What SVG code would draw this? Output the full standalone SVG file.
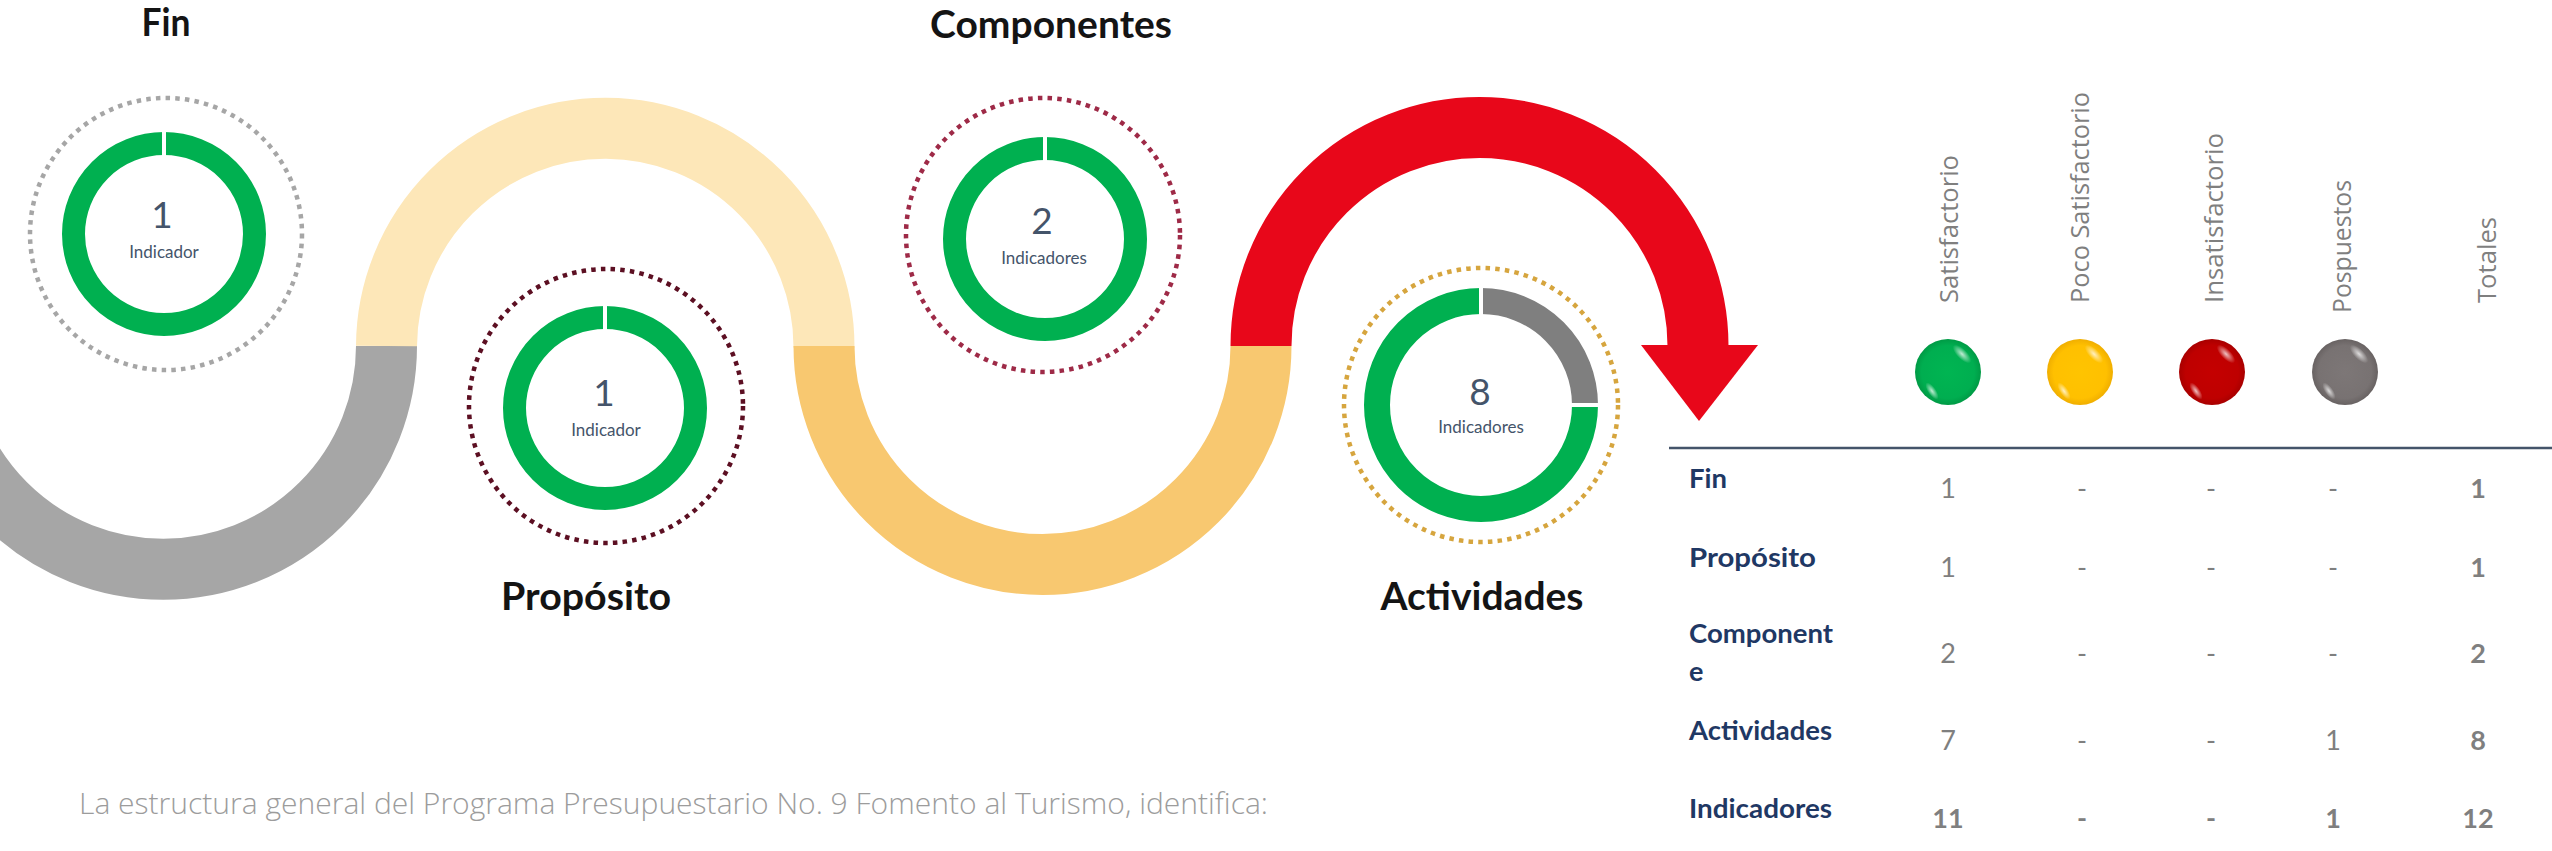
<svg xmlns="http://www.w3.org/2000/svg" width="2552" height="851" viewBox="0 0 2552 851">
<defs>
<style>
.title{font-family:Lato,'Open Sans',sans-serif;font-weight:700;font-size:39px;fill:#141414;text-anchor:middle}
.num{font-family:Lato,'Open Sans',sans-serif;font-size:37px;fill:#44546A;text-anchor:middle}
.lbl{font-family:Lato,'Open Sans',sans-serif;font-size:17px;fill:#44546A;text-anchor:middle}
.ring{fill:none;stroke:#00B050;stroke-width:23}
.dots{fill:none;stroke-width:4.5;stroke-dasharray:4.5 5.2}
.band{fill:none;stroke-width:61}
.gap{fill:#FFFFFF}
.hdr{font-family:'Open Sans',sans-serif;font-size:26px;fill:#7F7F7F}
.row{font-family:Lato,'Open Sans',sans-serif;font-weight:700;font-size:27px;fill:#1F3864}
.val{font-family:Lato,'Open Sans',sans-serif;font-size:27px;fill:#7F7F7F;text-anchor:middle}
.b{font-weight:700}
.foot{font-family:'Open Sans',sans-serif;font-weight:300;font-size:30px;fill:#9C9C9C}
</style>
<radialGradient id="gGreen" cx="50%" cy="50%" r="50%"><stop offset="0" stop-color="#00B552"/><stop offset="0.8" stop-color="#00AE50"/><stop offset="1" stop-color="#009A45"/></radialGradient>
<radialGradient id="gYellow" cx="50%" cy="50%" r="50%"><stop offset="0" stop-color="#FFC400"/><stop offset="0.8" stop-color="#FFC000"/><stop offset="1" stop-color="#F0AE00"/></radialGradient>
<radialGradient id="gRed" cx="50%" cy="50%" r="50%"><stop offset="0" stop-color="#C40000"/><stop offset="0.8" stop-color="#BE0000"/><stop offset="1" stop-color="#A80000"/></radialGradient>
<radialGradient id="gGrey" cx="50%" cy="50%" r="50%"><stop offset="0" stop-color="#7D7777"/><stop offset="0.8" stop-color="#787272"/><stop offset="1" stop-color="#686262"/></radialGradient>
<radialGradient id="hl" cx="50%" cy="50%" r="50%"><stop offset="0" stop-color="#FFFFFF" stop-opacity="0.75"/><stop offset="1" stop-color="#FFFFFF" stop-opacity="0"/></radialGradient>
</defs>

<rect width="2552" height="851" fill="#FFFFFF"/>

<g id="connectors">
  <path class="band" stroke="#A6A6A6" d="M -60 346 A 218.5 218.5 0 0 0 386.5 346"/>
  <path class="band" stroke="#FDE7B8" d="M 386.5 346 A 218.5 218.5 0 0 1 824 348"/>
  <path class="band" stroke="#F8C870" d="M 824 346 A 218.5 218.5 0 0 0 1261 346"/>
  <path class="band" stroke="#E8071A" d="M 1261 346 A 218.5 218.5 0 0 1 1698 346"/>
  <polygon fill="#E8071A" points="1641,345 1758,345 1699,421"/>
</g>

<g id="node-fin">
  <text class="title" x="166" y="36" textLength="49" lengthAdjust="spacingAndGlyphs">Fin</text>
  <circle class="dots" stroke="#A6A6A6" cx="166" cy="234" r="136"/>
  <circle class="ring" cx="164" cy="234" r="90.5"/>
  <rect class="gap" x="162" y="130" width="4" height="28"/>
  <text class="num" x="162" y="228">1</text>
  <text class="lbl" x="164" y="258">Indicador</text>
</g>

<g id="node-proposito">
  <text class="title" x="586" y="610" textLength="170" lengthAdjust="spacingAndGlyphs">Propósito</text>
  <circle class="dots" stroke="#5C0F22" cx="606" cy="406" r="137"/>
  <circle class="ring" cx="605" cy="408" r="90.5"/>
  <rect class="gap" x="603" y="304" width="4" height="28"/>
  <text class="num" x="604" y="406">1</text>
  <text class="lbl" x="606" y="436">Indicador</text>
</g>

<g id="node-componentes">
  <text class="title" x="1051" y="38" textLength="242" lengthAdjust="spacingAndGlyphs">Componentes</text>
  <circle class="dots" stroke="#9E2A47" cx="1043" cy="235" r="137"/>
  <circle class="ring" cx="1045" cy="239" r="90.5"/>
  <rect class="gap" x="1043" y="135" width="4" height="28"/>
  <text class="num" x="1042" y="234">2</text>
  <text class="lbl" x="1044" y="264">Indicadores</text>
</g>

<g id="node-actividades">
  <text class="title" x="1482" y="610" textLength="203" lengthAdjust="spacingAndGlyphs">Actividades</text>
  <circle class="dots" stroke="#D6A53E" cx="1481" cy="405" r="137"/>
  <path fill="none" stroke="#00B050" stroke-width="26" d="M 1585 405 A 104 104 0 1 1 1481 301"/>
  <path fill="none" stroke="#7F7F7F" stroke-width="26" d="M 1481 301 A 104 104 0 0 1 1585 405"/>
  <rect class="gap" x="1479" y="284" width="4" height="34"/>
  <rect class="gap" x="1568" y="403" width="34" height="4"/>
  <text class="num" x="1480" y="405">8</text>
  <text class="lbl" x="1481" y="433">Indicadores</text>
</g>

<g id="table">
  <text class="hdr" transform="translate(1958,303) rotate(-90)" textLength="148" lengthAdjust="spacingAndGlyphs">Satisfactorio</text>
  <text class="hdr" transform="translate(2089,303) rotate(-90)" textLength="211" lengthAdjust="spacingAndGlyphs">Poco Satisfactorio</text>
  <text class="hdr" transform="translate(2223,303) rotate(-90)" textLength="170" lengthAdjust="spacingAndGlyphs">Insatisfactorio</text>
  <text class="hdr" transform="translate(2351,313) rotate(-90)" textLength="133" lengthAdjust="spacingAndGlyphs">Pospuestos</text>
  <text class="hdr" transform="translate(2496,303) rotate(-90)" textLength="86" lengthAdjust="spacingAndGlyphs">Totales</text>

  <g id="ball-satisfactorio">
    <circle cx="1948" cy="372" r="33" fill="url(#gGreen)"/>
    <ellipse cx="1962" cy="354" rx="12" ry="5" transform="rotate(45 1962 354)" fill="url(#hl)"/>
    <ellipse cx="1932" cy="391" rx="10" ry="4" transform="rotate(55 1932 391)" fill="url(#hl)"/>
  </g>
  <g id="ball-poco">
    <circle cx="2080" cy="372" r="33" fill="url(#gYellow)"/>
    <ellipse cx="2094" cy="354" rx="12" ry="5" transform="rotate(45 2094 354)" fill="url(#hl)"/>
    <ellipse cx="2064" cy="391" rx="10" ry="4" transform="rotate(55 2064 391)" fill="url(#hl)"/>
  </g>
  <g id="ball-insatisfactorio">
    <circle cx="2212" cy="372" r="33" fill="url(#gRed)"/>
    <ellipse cx="2226" cy="354" rx="12" ry="5" transform="rotate(45 2226 354)" fill="url(#hl)"/>
    <ellipse cx="2196" cy="391" rx="10" ry="4" transform="rotate(55 2196 391)" fill="url(#hl)"/>
  </g>
  <g id="ball-pospuestos">
    <circle cx="2345" cy="372" r="33" fill="url(#gGrey)"/>
    <ellipse cx="2359" cy="354" rx="12" ry="5" transform="rotate(45 2359 354)" fill="url(#hl)"/>
    <ellipse cx="2329" cy="391" rx="10" ry="4" transform="rotate(55 2329 391)" fill="url(#hl)"/>
  </g>

  <line x1="1669" y1="448" x2="2552" y2="448" stroke="#44546A" stroke-width="2.5"/>

  <text class="row" x="1689" y="488" textLength="38" lengthAdjust="spacingAndGlyphs">Fin</text>
  <text class="row" x="1689" y="567" textLength="127" lengthAdjust="spacingAndGlyphs">Propósito</text>
  <text class="row" x="1689" y="643" textLength="144" lengthAdjust="spacingAndGlyphs">Component</text>
  <text class="row" x="1689" y="681">e</text>
  <text class="row" x="1689" y="740" textLength="143" lengthAdjust="spacingAndGlyphs">Actividades</text>
  <text class="row" x="1689" y="818" textLength="143" lengthAdjust="spacingAndGlyphs">Indicadores</text>

  <text class="val" x="1948" y="498">1</text>
  <text class="val" x="2082" y="498">-</text>
  <text class="val" x="2211" y="498">-</text>
  <text class="val" x="2333" y="498">-</text>
  <text class="val b" x="2478" y="498">1</text>

  <text class="val" x="1948" y="577">1</text>
  <text class="val" x="2082" y="577">-</text>
  <text class="val" x="2211" y="577">-</text>
  <text class="val" x="2333" y="577">-</text>
  <text class="val b" x="2478" y="577">1</text>

  <text class="val" x="1948" y="663">2</text>
  <text class="val" x="2082" y="663">-</text>
  <text class="val" x="2211" y="663">-</text>
  <text class="val" x="2333" y="663">-</text>
  <text class="val b" x="2478" y="663">2</text>

  <text class="val" x="1948" y="750">7</text>
  <text class="val" x="2082" y="750">-</text>
  <text class="val" x="2211" y="750">-</text>
  <text class="val" x="2333" y="750">1</text>
  <text class="val b" x="2478" y="750">8</text>

  <text class="val b" x="1948" y="828">11</text>
  <text class="val b" x="2082" y="828">-</text>
  <text class="val b" x="2211" y="828">-</text>
  <text class="val b" x="2333" y="828">1</text>
  <text class="val b" x="2478" y="828">12</text>
</g>

<g id="footer">
  <text class="foot" x="79" y="814" textLength="1189" lengthAdjust="spacingAndGlyphs">La estructura general del Programa Presupuestario No. 9 Fomento al Turismo,  identifica:</text>
</g>
</svg>
